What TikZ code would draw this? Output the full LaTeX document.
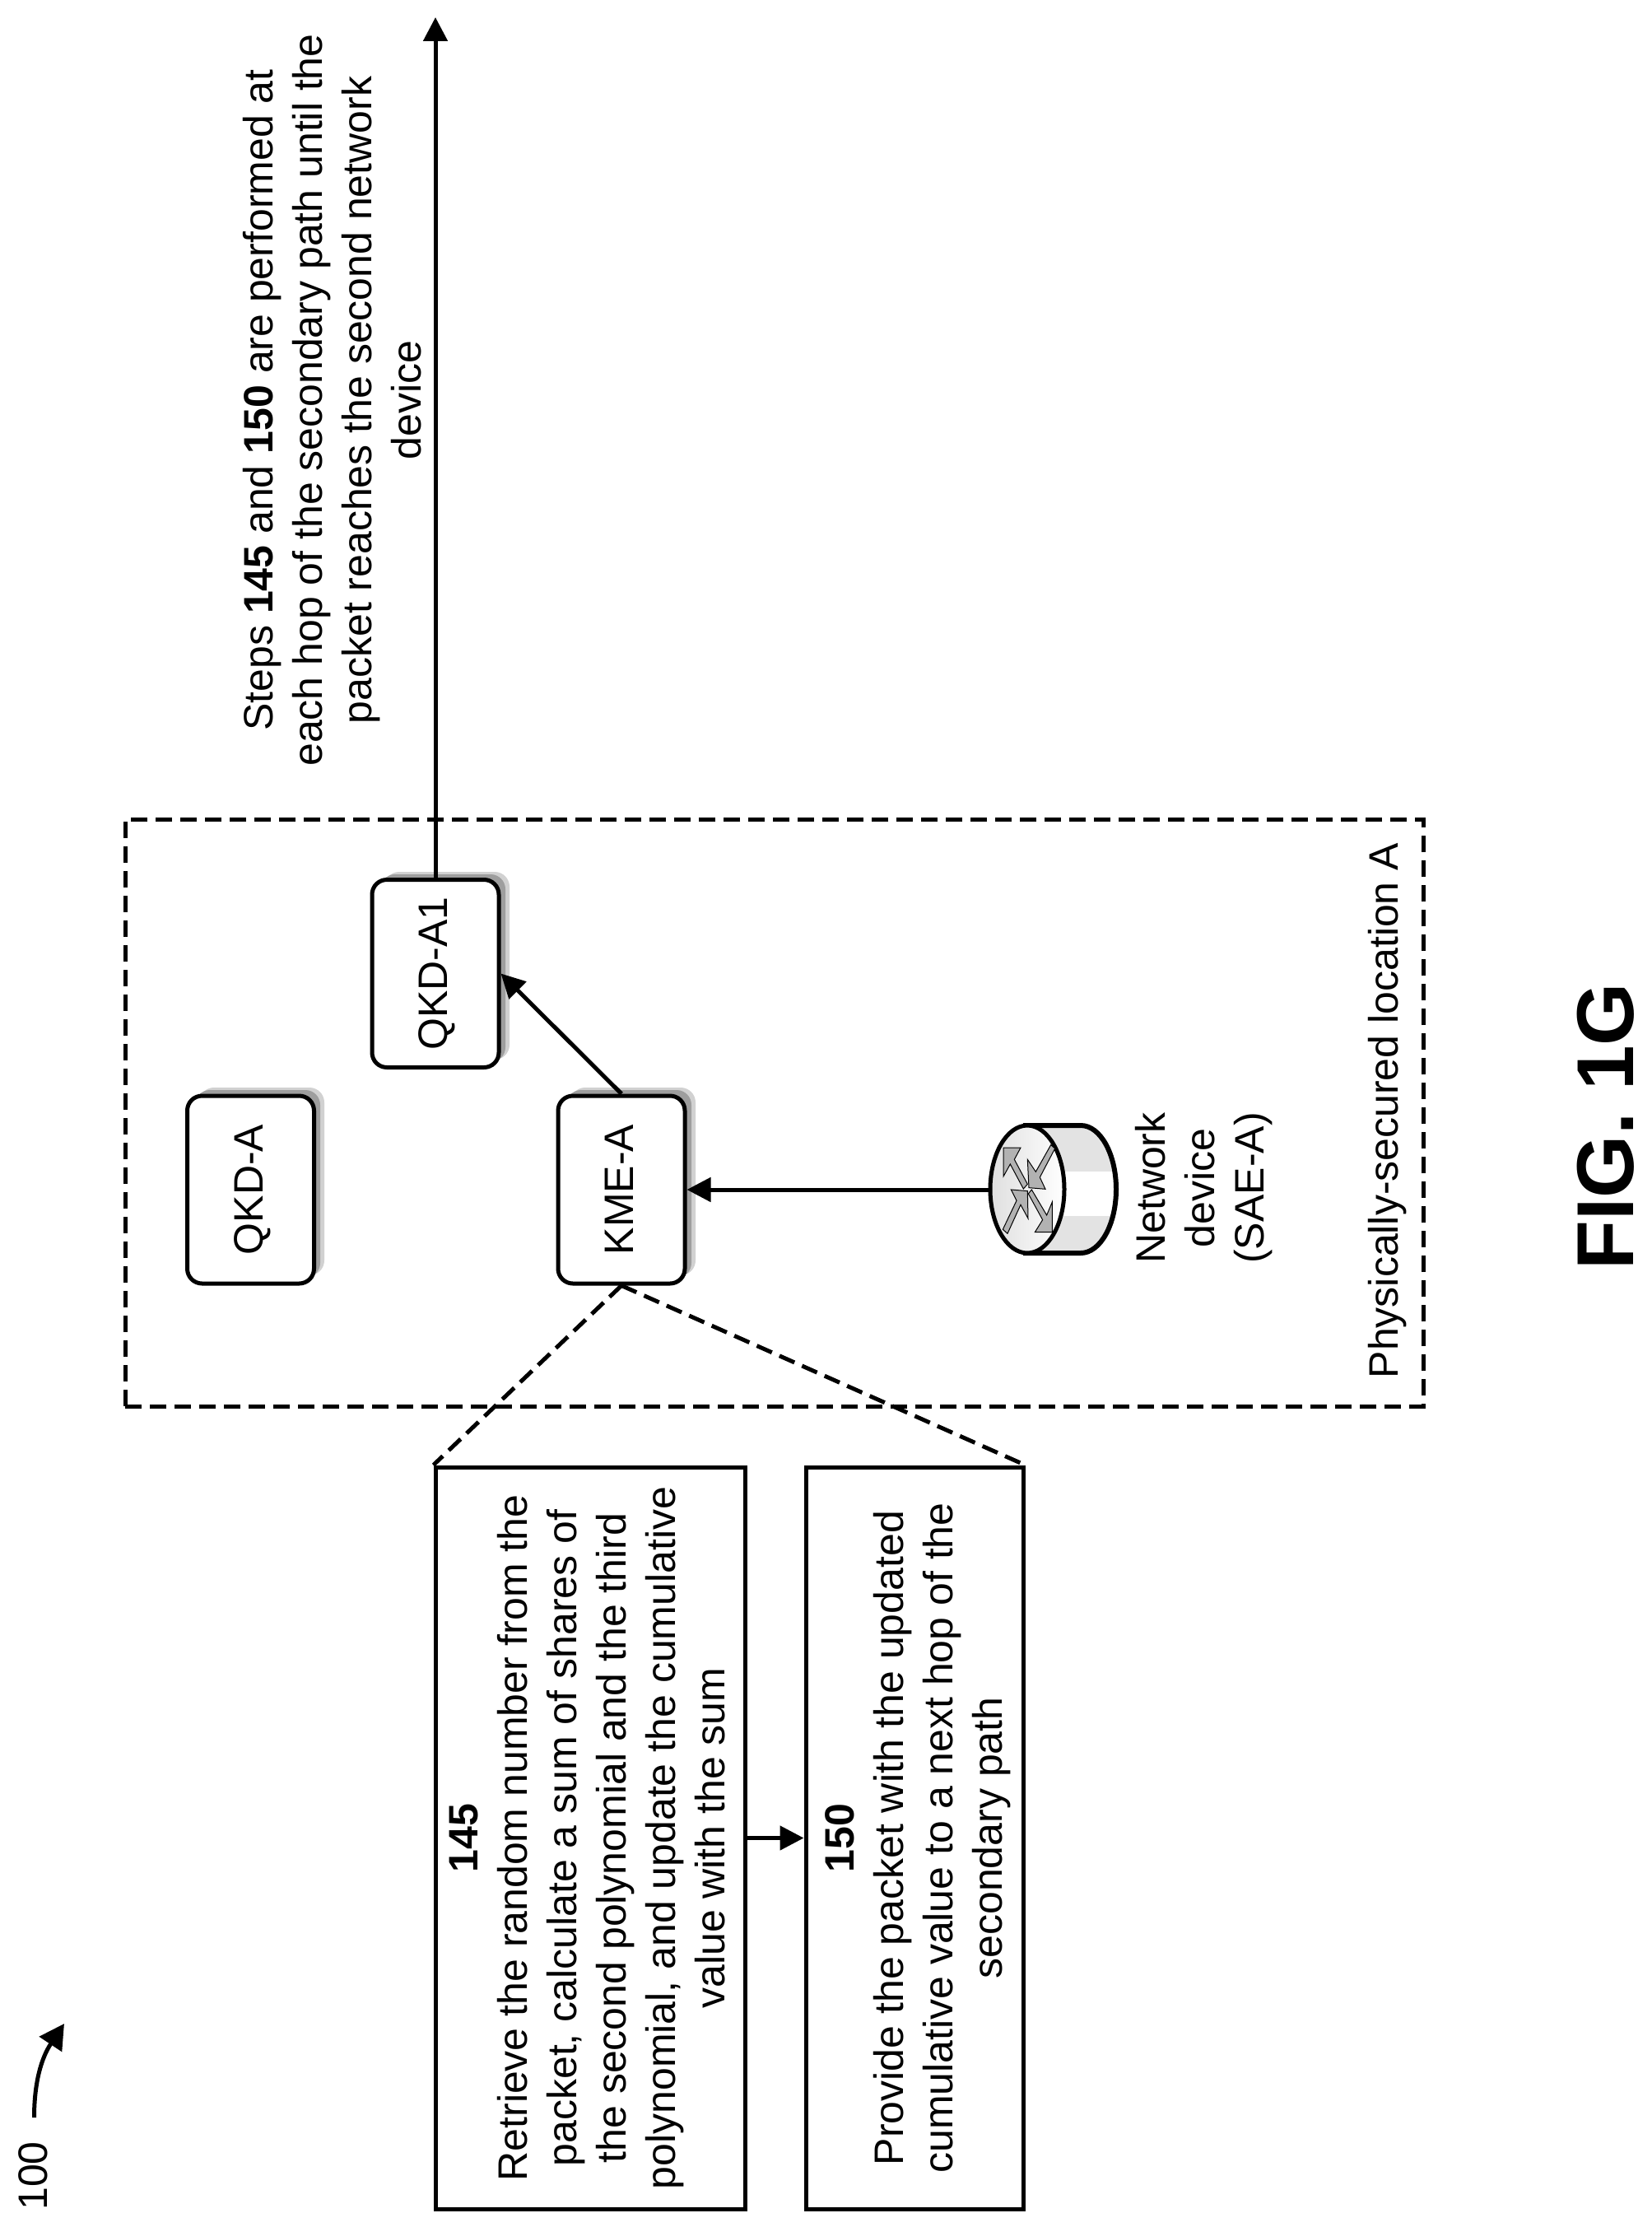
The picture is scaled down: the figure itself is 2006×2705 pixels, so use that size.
\documentclass[tikz,border=0pt]{standalone}
\usepackage{fontspec}
\setmainfont{Liberation Sans}
\usetikzlibrary{arrows.meta}
\definecolor{shadowgray}{gray}{0.62}
\definecolor{shadowedge}{gray}{0.82}
\newcommand{\bodyfont}{\fontsize{50}{60}\selectfont}
\tikzset{
  x=1pt,y=-1pt,
  line/.style={draw=black,line width=5pt},
  arrowline/.style={line,-{Triangle[length=29pt,width=29pt]}},
  dashline/.style={draw=black,line width=5pt,dash pattern=on 20pt off 10pt},
  label/.style={rotate=90,align=center,font=\bodyfont,inner sep=0pt},
  baselabel/.style={rotate=90,anchor=base,font=\bodyfont,inner sep=0pt},
  devicebox/.style={draw=black,line width=5pt,rounded corners=18pt,fill=white,minimum width=228pt,minimum height=154pt,rotate=90,inner sep=0pt,font=\bodyfont,text depth=5pt},
  shadowbox/.style={fill=shadowgray,rounded corners=18pt,minimum width=228pt,minimum height=152pt,rotate=90,inner sep=0pt},
  shadowoutline/.style={shadowbox,fill=shadowedge},
  stepbox/.style={draw=black,line width=5pt,rotate=90,align=center,inner sep=0pt,fill=white,font=\bodyfont,minimum width=901pt},
}
\begin{document}
\begin{tikzpicture}
\useasboundingbox (0,0) rectangle (2006,2705);
% dashed location box
\node[dashline,minimum width=1577pt,minimum height=713pt,inner sep=0pt] (loc) at (940.5,1351.5) {};
\node[baselabel] (loclabel) at (1698,1349) {Physically-secured location A};
% shadows
\node[shadowoutline] (qa1so) at (543,1173) {};
\node[shadowbox] (qa1s) at (538,1176) {};
\node[shadowoutline] (qaso) at (318,1435) {};
\node[shadowbox] (qas) at (313,1438) {};
\node[shadowoutline] (kmeso) at (769,1435) {};
\node[shadowbox] (kmes) at (764,1438) {};
% device boxes
\node[devicebox] (qa1) at (529,1182.5) {QKD-A1};
\node[devicebox] (qa) at (304.5,1445) {QKD-A};
\node[devicebox] (kme) at (755,1445) {KME-A};
% router
\fill[gray!22] (1243,1367) -- (1313,1367) arc[start angle=-90,end angle=90,x radius=43pt,y radius=-77.5pt] -- (1243,1522) -- cycle;
\fill[white] (1270,1423) rectangle (1353,1477);
\draw[draw=black,line width=6pt] (1243,1367) -- (1313,1367) arc[start angle=-90,end angle=90,x radius=43pt,y radius=-77.5pt] -- (1243,1522);
\draw[draw=black,line width=5pt,left color=gray!25,right color=white] (1248,1444.5) ellipse[x radius=45pt,y radius=77.5pt];
\begin{scope}[shift={(1100,1250)},x=0.3333pt,y=-0.3333pt]
  \draw[fill=gray!60,line width=1pt] (357,432) -- (420,432) -- (397,475) -- (445,565) -- (430,582) -- (382,492) -- (357,537) -- cycle;
  \draw[fill=gray!60,line width=1pt] (445,475) -- (475,520) -- (530,422) -- (545,435) -- (490,540) -- (510,583) -- (450,578) -- cycle;
  \draw[fill=gray!60,line width=1pt] (385,585) -- (445,590) -- (447,690) -- (420,640) -- (372,745) -- (355,730) -- (405,625) -- cycle;
  \draw[fill=gray!60,line width=1pt] (535,630) -- (535,740) -- (472,740) -- (500,695) -- (448,600) -- (460,585) -- (515,678) -- cycle;
\end{scope}
\coordinate (rt) at (1202,1445);
\node[label] (netlabel) at (1463,1443) {Network\\device\\(SAE-A)};
% steps
\node[stepbox,minimum height=376pt] (s145) at (717,2232.5) {\textbf{145}\\Retrieve the random number from the\\packet, calculate a sum of shares of\\the second polynomial and the third\\polynomial, and update the cumulative\\value with the sum\rule[-7pt]{0pt}{7pt}};
\node[stepbox,minimum height=264pt] (s150) at (1111,2232.5) {\rule{0pt}{42.5pt}\textbf{150}\\Provide the packet with the updated\\cumulative value to a next hop of the\\secondary path};
% top text
\node[label] (steps) at (404,486) {Steps \textbf{145} and \textbf{150} are performed at\\each hop of the secondary path until the\\packet reaches the second network\\device};
\node[baselabel,font=\fontsize{98}{110}\selectfont\bfseries] (fig) at (1984,1368) {FIG. 1G};
\node[baselabel] (ref) at (57,2643) {100};
\coordinate (top) at (529,21);
\coordinate (c100) at (41.5,2572);
\coordinate (a100) at (78,2458);
% connectors
\draw[arrowline] (qa1.east) -- (top);
\draw[arrowline] (kme.east) -- (qa1.south);
\draw[arrowline] (rt) -- (kme.south);
\draw[arrowline] (s145.south) -- (s150.north);
\draw[dashline] (kme.west) -- (s145.north east);
\draw[dashline] (kme.west) -- (s150.south east);
\draw[line,-{Triangle[length=30pt,width=32pt]}] (c100) .. controls (41.5,2530) and (50,2500) .. (a100);
\end{tikzpicture}
\end{document}
